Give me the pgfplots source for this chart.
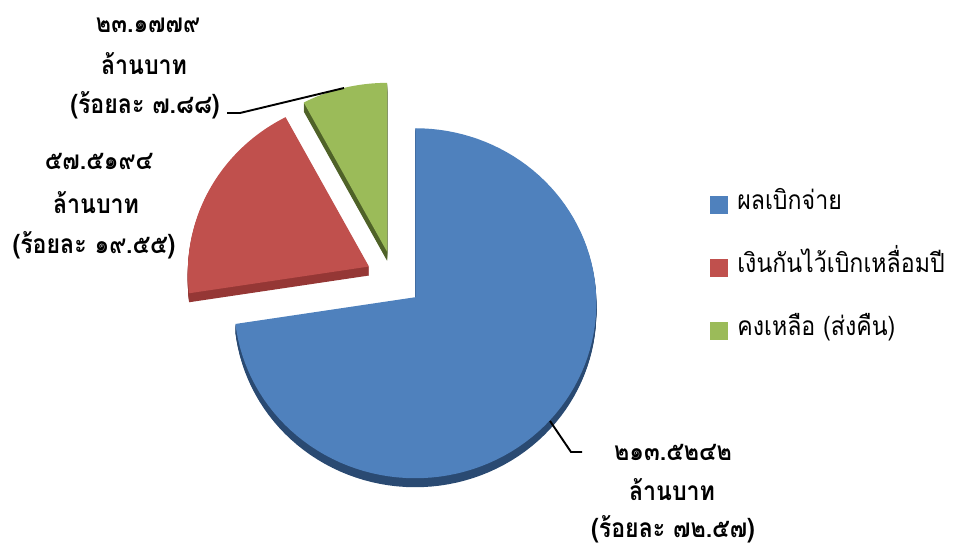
\documentclass[border=0pt]{standalone}
\usepackage{pgfplots}
\pgfplotsset{compat=1.18}
\usepackage{fontspec}
\newfontfamily\thaifont[Script=Thai, FakeStretch=0.88]{Loma}
\definecolor{cBlue}{HTML}{4F81BD}
\definecolor{cRed}{HTML}{C0504D}
\definecolor{cGreen}{HTML}{9BBB59}
\definecolor{sBlue}{HTML}{2A4A72}
\definecolor{sRed}{HTML}{953735}
\definecolor{sGreen}{HTML}{4F6228}
% data (million baht)
\def\vA{213.5242}\def\vB{57.5194}\def\vC{23.1779}
\pgfmathsetmacro\tot{\vA+\vB+\vC}
\pgfmathsetmacro\eA{\vA/\tot*360}
\pgfmathsetmacro\eB{\eA+\vB/\tot*360}
\def\eC{360}
\def\cx{394}\def\cy{269}\def\ex{28}
\pgfmathsetmacro\axA{\cx+\ex*sin(\eA/2)}\pgfmathsetmacro\ayA{\cy+\ex*cos(\eA/2)}
\pgfmathsetmacro\axB{\cx+\ex*sin((\eA+\eB)/2)}\pgfmathsetmacro\ayB{\cy+\ex*cos((\eA+\eB)/2)}
\pgfmathsetmacro\axC{\cx+\ex*sin((\eB+\eC)/2)}\pgfmathsetmacro\ayC{\cy+\ex*cos((\eB+\eC)/2)}
\newcommand\slice[6]{%
  \addplot[#6, draw=none, samples at={-1,0,...,101}, variable=\t]
  ({#3+rr(\t)*181*sin(th(\t,#1,#2))*(1-0.0343*cos(th(\t,#1,#2)))},
   {#4-#5+rr(\t)*175*cos(th(\t,#1,#2))*(1-0.0343*cos(th(\t,#1,#2)))});
}
\tikzset{lbl/.style={font=\fontsize{11pt}{13pt}\selectfont\thaifont\bfseries, anchor=base, inner sep=0pt}}
\begin{document}
\begin{tikzpicture}
\begin{axis}[hide axis, scale only axis, width=14cm, height=8.0504cm,
  xmin=0, xmax=953, ymin=0, ymax=548, clip=false,
  declare function={th(\s,\p,\q)=\p+(\q-\p)*min(max(\s,0),100)/100; rr(\s)=1-or(\s<0,\s>100);},
  legend style={at={(0.745,0.6515)}, anchor=north west, draw=none, fill=none, inner sep=0pt,
    font=\fontsize{11pt}{13pt}\selectfont\thaifont, row sep=0.525cm, column sep=0.13cm,
    nodes={inner sep=0pt, text height=0.27cm, text depth=0.13cm}},
  legend cell align=left,
  legend image code/.code={\fill[#1] (0cm,-0.132cm) rectangle (0.264cm,0.132cm);}]
\pgfplotsinvokeforeach{1,...,9}{%
  \slice{0}{\eA}{\axA}{\ayA}{#1}{fill=sBlue, forget plot}
  \slice{\eA}{\eB}{\axB}{\ayB}{#1}{fill=sRed, forget plot}
  \slice{\eB}{\eC}{\axC}{\ayC}{#1}{fill=sGreen, forget plot}
}
\slice{0}{\eA}{\axA}{\ayA}{0}{fill=cBlue}
\addlegendentry{ผลเบิกจ่าย}
\slice{\eA}{\eB}{\axB}{\ayB}{0}{fill=cRed}
\addlegendentry{เงินกันไว้เบิกเหลื่อมปี}
\slice{\eB}{\eC}{\axC}{\ayC}{0}{fill=cGreen}
\addlegendentry{คงเหลือ (ส่งคืน)}
\addplot[black, line width=0.8pt, forget plot] coordinates {(227,435) (240,435) (344,460)};
\addplot[black, line width=0.8pt, forget plot] coordinates {(550,127) (571,96) (582,96)};
\node[lbl] at (axis cs:148,515) {๒๓.๑๗๗๙};
\node[lbl] at (axis cs:144,473) {ล้านบาท};
\node[lbl] at (axis cs:145,434) {(ร้อยละ ๗.๘๘)};
\node[lbl] at (axis cs:99,378) {๕๗.๕๑๙๔};
\node[lbl] at (axis cs:96,335) {ล้านบาท};
\node[lbl] at (axis cs:94,295) {(ร้อยละ ๑๙.๕๕)};
\node[lbl] at (axis cs:673,88) {๒๑๓.๕๒๔๒};
\node[lbl] at (axis cs:672,48) {ล้านบาท};
\node[lbl] at (axis cs:673,11) {(ร้อยละ ๗๒.๕๗)};
\end{axis}
\pgfresetboundingbox
\path (current axis.south west) rectangle (current axis.north east);
\end{tikzpicture}
\end{document}
